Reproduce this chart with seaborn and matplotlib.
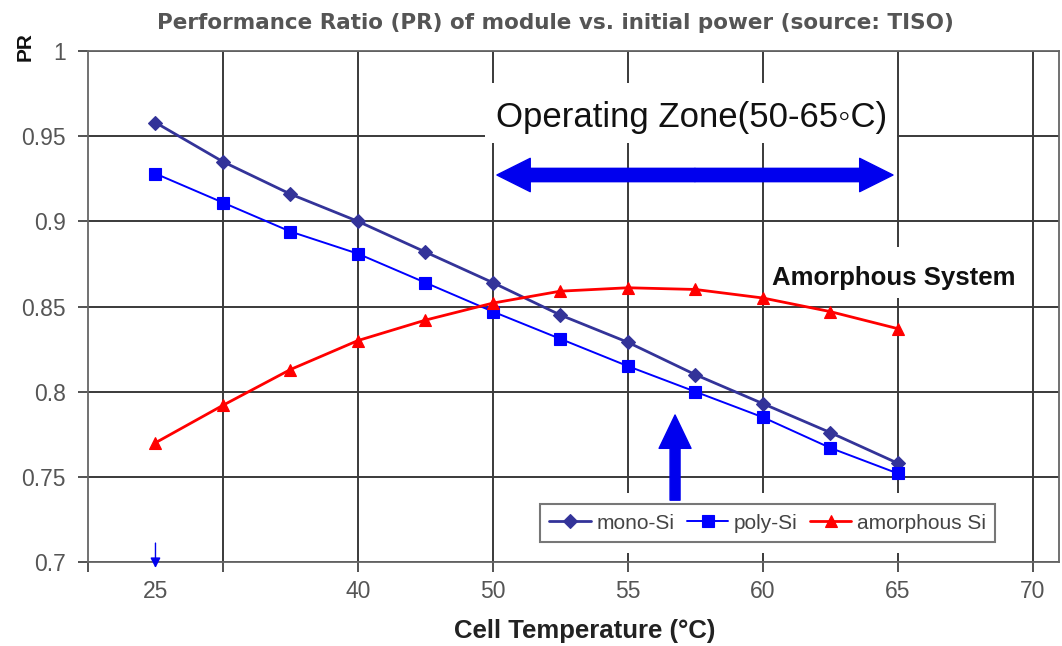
import numpy as np
import pandas as pd
import matplotlib
matplotlib.use("Agg")
import matplotlib.pyplot as plt
import seaborn as sns
from matplotlib.patches import Rectangle

# ---------------- data ----------------
cell_temps = [25, 30, 35, 40, 45, 50, 52.5, 55, 57.5, 60, 62.5, 65]
mono_si = [0.958, 0.935, 0.916, 0.900, 0.882, 0.864, 0.845, 0.829, 0.810, 0.793, 0.776, 0.758]
poly_si = [0.928, 0.911, 0.894, 0.881, 0.864, 0.847, 0.831, 0.815, 0.800, 0.785, 0.767, 0.752]
amorphous_si = [0.770, 0.792, 0.813, 0.830, 0.842, 0.852, 0.859, 0.861, 0.860, 0.855, 0.847, 0.837]
series_names = ["mono-Si", "poly-Si", "amorphous Si"]

# category axis (Excel-style) continues past the last data point
axis_temps = cell_temps + [67.5, 70]
x_tick_temps = [25, 40, 50, 55, 60, 65, 70]
x_tick_labels = ["25", "40", "50", "55", "60", "65", "70"]
grid_temps = [30, 40, 50, 55, 60, 65, 70]
y_ticks = [0.7, 0.75, 0.8, 0.85, 0.9, 0.95, 1.0]
y_tick_labels = ["0.7", "0.75", "0.8", "0.85", "0.9", "0.95", "1"]

title = "Performance Ratio (PR) of module vs. initial power (source: TISO)"
x_label = "Cell Temperature (°C)"
y_label = "PR"
zone_text = "Operating Zone(50-65\u25e6C)"
amorphous_text = "Amorphous System"

# ---------------- styling ----------------
sns.set_theme(style="white")
plt.rcParams["font.family"] = ["Liberation Sans", "DejaVu Sans"]

colors = {"mono-Si": "#333399", "poly-Si": "#0000ff", "amorphous Si": "#ff0000"}
markers = {"mono-Si": "D", "poly-Si": "s", "amorphous Si": "^"}
msizes = {"mono-Si": 7.5, "poly-Si": 9, "amorphous Si": 9}
lwidths = {"mono-Si": 2.0, "poly-Si": 1.4, "amorphous Si": 2.0}


def cat_pos(t):
    return axis_temps.index(t)


df = pd.DataFrame({
    "pos": np.arange(len(cell_temps)),
    "temp": cell_temps,
    "mono-Si": mono_si,
    "poly-Si": poly_si,
    "amorphous Si": amorphous_si,
}).melt(id_vars=["pos", "temp"], var_name="series", value_name="PR")

W, H = 1062, 646
fig = plt.figure(figsize=(W / 100, H / 100), dpi=100)
fig.patch.set_facecolor("white")
ax = fig.add_axes([88 / W, 1 - 562 / H, 971 / W, 511 / H])
ax.set_facecolor("white")

for name in series_names:
    sub = df[df["series"] == name]
    sns.lineplot(data=sub, x="pos", y="PR", ax=ax, color=colors[name],
                 marker=markers[name], markersize=msizes[name],
                 markeredgecolor=colors[name], markeredgewidth=0.8,
                 linewidth=lwidths[name], label=name, zorder=3)

ax.set_xlim(-1, 13.39)
ax.set_ylim(0.7, 1.0)

# gridlines / tick marks at category boundaries; labels under selected categories
major_pos = [-1] + [cat_pos(t) for t in grid_temps]
label_map = {cat_pos(t): lab for t, lab in zip(x_tick_temps, x_tick_labels)}
ax.set_xticks(major_pos, [label_map.get(p, "") for p in major_pos])
minor_pos = [p for p in label_map if p not in major_pos]
ax.set_xticks(minor_pos, [label_map[p] for p in minor_pos], minor=True)
ax.tick_params(axis="x", which="major", length=7, width=1.3, color="#444",
               direction="out", pad=6, labelsize=16.5, labelcolor="#555555", bottom=True)
ax.tick_params(axis="x", which="minor", length=0, pad=13, labelsize=16.5,
               labelcolor="#555555", bottom=True)
ax.set_yticks(y_ticks, y_tick_labels)
ax.tick_params(axis="y", which="major", length=7, width=1.3, color="#444",
               direction="out", pad=9, labelsize=16.5, labelcolor="#555555", left=True)

ax.grid(True, which="major", axis="both", color="#3a3a3a", linewidth=1.4)
ax.xaxis.get_gridlines()[0].set_visible(False)
for side, sp in ax.spines.items():
    sp.set_color("#666666")
    sp.set_linewidth(1.3)
ax.set_xlabel("")
ax.set_ylabel("")

# white boxes that hide the grid behind the annotations
ax.add_patch(Rectangle((4.88, 0.946), 6.11, 0.035, facecolor="white",
                       edgecolor="none", zorder=1.8))
ax.add_patch(Rectangle((9.1, 0.855), 3.7, 0.030, facecolor="white",
                       edgecolor="none", zorder=1.8))
ax.add_patch(Rectangle((0.4555, 0.0176), 0.489, 0.1174, transform=ax.transAxes,
                       facecolor="white", edgecolor="none", zorder=1.8))

# annotations
ax.text(7.94, 0.9607, zone_text, ha="center", va="center", fontsize=25,
        color="#111111", zorder=4)
ax.text(9.14, 0.8667, amorphous_text, ha="left", va="center", fontsize=18.5,
        fontweight="bold", color="#111111", zorder=4)

arrow_blue = "#0000ee"
mid = (5.06 + 10.93) / 2
for end in (5.06, 10.93):
    ax.annotate("", xy=(end, 0.9272), xytext=(mid, 0.9272),
                arrowprops=dict(arrowstyle="simple,head_length=1.2,head_width=1.2,tail_width=0.48",
                                color=arrow_blue, shrinkA=0, shrinkB=0, mutation_scale=20),
                zorder=4)
ax.annotate("", xy=(7.70, 0.7863), xytext=(7.70, 0.7363),
            arrowprops=dict(arrowstyle="simple,head_length=1.2,head_width=1.15,tail_width=0.36",
                            color=arrow_blue, shrinkA=0, shrinkB=0, mutation_scale=20),
            zorder=4)
ax.annotate("", xy=(0.0, 0.6965), xytext=(0.0, 0.7111),
            arrowprops=dict(arrowstyle="-|>,head_length=0.5,head_width=0.25",
                            color=arrow_blue, lw=1.0, shrinkA=0, shrinkB=0),
            annotation_clip=False, zorder=4)

# legend
handles, labels = ax.get_legend_handles_labels()
leg = ax.legend(handles, labels, loc="lower left",
                bbox_to_anchor=((540 - 88) / 971, (562 - 542) / 511, (995 - 540) / 971, 36 / 511),
                mode="expand", ncol=3, fontsize=15, frameon=True, fancybox=False,
                handlelength=2.0, handletextpad=0.25, columnspacing=0.5,
                borderpad=0.45, borderaxespad=0)
leg.get_frame().set_edgecolor("#777777")
leg.get_frame().set_linewidth(1.5)
leg.get_frame().set_facecolor("white")
leg.get_frame().set_alpha(1)
for t in leg.get_texts():
    t.set_color("#444444")
leg.set_zorder(5)

# titles
fig.text(555 / W, 1 - 23 / H, title, ha="center", va="center", fontsize=15.5,
         fontweight="bold", color="#555555", family=["DejaVu Sans"])
fig.text(585 / W, 1 - 631 / H, x_label, ha="center", va="center", fontsize=18.5,
         fontweight="bold", color="#222222")
fig.text(25 / W, 1 - 47 / H, y_label, ha="center", va="center", fontsize=15,
         fontweight="bold", color="#111111", rotation=90)

fig.savefig("out.png", dpi=100, facecolor="white")
